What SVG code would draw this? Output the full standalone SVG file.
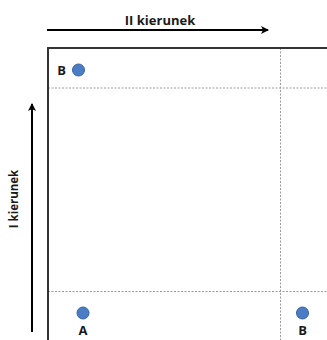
<svg xmlns="http://www.w3.org/2000/svg" width="327" height="340" viewBox="0 0 327 340">
<style>
.lbl{font-family:"Open Sans","Liberation Sans",sans-serif;font-weight:bold;fill:#1a1a1a}
.dash{stroke:#9a9a9a;stroke-width:1;stroke-dasharray:2,1.5;fill:none}
.pt{fill:#4a7dc4;stroke:#3563a3;stroke-width:1}
.arr{stroke:#000;stroke-width:2;fill:none}
</style>
<defs>
<marker id="ah" markerWidth="10" markerHeight="10" refX="8" refY="5" orient="auto" markerUnits="userSpaceOnUse">
<path d="M1,1 L9,5 L1,9 L3,5 Z" fill="#000"/>
</marker>
</defs>
<rect width="327" height="340" fill="#fff"/>
<g id="connectors">
<line class="arr" x1="47" y1="30" x2="268" y2="30" marker-end="url(#ah)"/>
<line class="arr" x1="32" y1="332" x2="32" y2="104" marker-end="url(#ah)"/>
</g>
<g id="grid">
<line class="dash" x1="48" y1="88" x2="327" y2="88"/>
<line class="dash" x1="48" y1="291.5" x2="327" y2="291.5"/>
<line class="dash" x1="280.5" y1="48" x2="280.5" y2="340"/>
<path d="M48,342 V48 H328" fill="none" stroke="#333" stroke-width="2"/>
</g>
<g id="label-II">
<text class="lbl" x="160" y="25" font-size="13" text-anchor="middle">II kierunek</text>
</g>
<g id="label-I">
<text class="lbl" x="0" y="0" font-size="11.5" text-anchor="middle" transform="translate(18,199) rotate(-90)">I kierunek</text>
</g>
<g id="B-top">
<circle class="pt" cx="78.5" cy="70" r="6"/>
<text class="lbl" x="61.5" y="75" font-size="13" text-anchor="middle">B</text>
</g>
<g id="A">
<circle class="pt" cx="83" cy="313" r="6"/>
<text class="lbl" x="83" y="335" font-size="13" text-anchor="middle">A</text>
</g>
<g id="B-bottom">
<circle class="pt" cx="302.5" cy="313" r="6"/>
<text class="lbl" x="302.5" y="335" font-size="13" text-anchor="middle">B</text>
</g>
</svg>
